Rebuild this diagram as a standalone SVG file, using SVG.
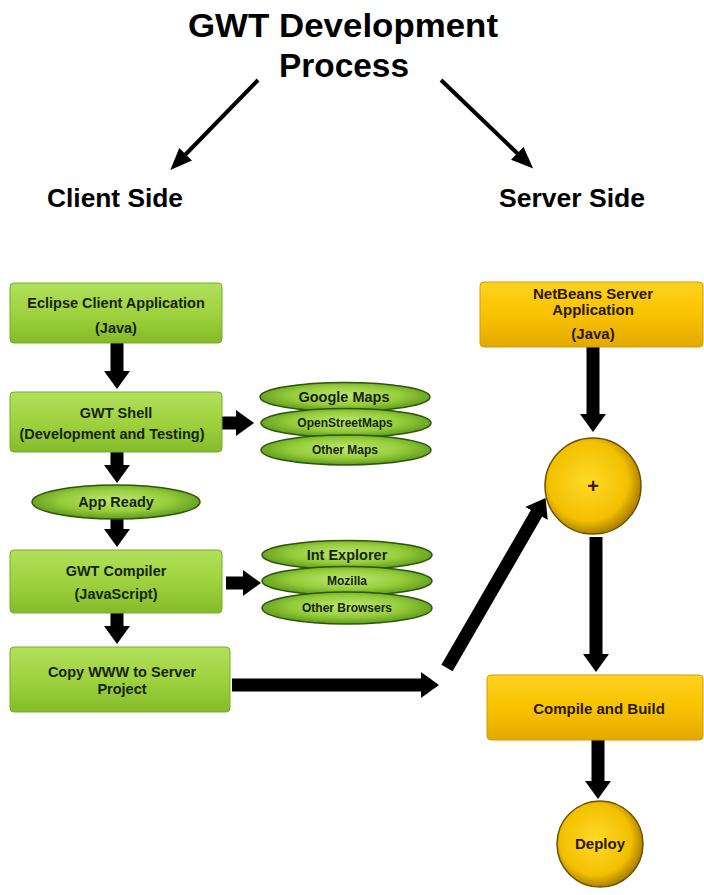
<svg xmlns="http://www.w3.org/2000/svg" width="704" height="895" viewBox="0 0 704 895">
<defs>
  <linearGradient id="gBox" x1="0" y1="0" x2="0" y2="1">
    <stop offset="0" stop-color="#b2e05c"/>
    <stop offset="0.5" stop-color="#9fd23f"/>
    <stop offset="1" stop-color="#84bb2a"/>
  </linearGradient>
  <radialGradient id="gEll" cx="0.5" cy="0.45" r="0.55">
    <stop offset="0" stop-color="#bde872"/>
    <stop offset="0.6" stop-color="#95cc3a"/>
    <stop offset="1" stop-color="#5e9a1c"/>
  </radialGradient>
  <linearGradient id="oBox" x1="0" y1="0" x2="0" y2="1">
    <stop offset="0" stop-color="#ffd21e"/>
    <stop offset="0.5" stop-color="#f8c300"/>
    <stop offset="1" stop-color="#e4a800"/>
  </linearGradient>
  <radialGradient id="oCirc" cx="0.45" cy="0.45" r="0.55">
    <stop offset="0" stop-color="#ffd928"/>
    <stop offset="0.75" stop-color="#f2c000"/>
    <stop offset="1" stop-color="#b08200"/>
  </radialGradient>
  <marker id="thick" viewBox="0 0 18 26" refX="1" refY="13" markerWidth="18" markerHeight="26" markerUnits="userSpaceOnUse" orient="auto">
    <path d="M0,0 L18,13 L0,26 z" fill="#000"/>
  </marker>
  <marker id="thin" viewBox="0 0 22 18" refX="1" refY="9" markerWidth="22" markerHeight="18" markerUnits="userSpaceOnUse" orient="auto">
    <path d="M0,0 L22,9 L0,18 z" fill="#000"/>
  </marker>
</defs>
<style>
  text { font-family: "Liberation Sans", Arial, sans-serif; font-weight: bold; text-anchor: middle; }
  .title { font-size: 34px; fill: #000; }
  .side { font-size: 25px; fill: #000; text-anchor: start; }
  .gbox { fill: url(#gBox); stroke: #7aab26; stroke-width: 1; }
  .gell { fill: url(#gEll); stroke: #2e560c; stroke-width: 1.5; }
  .obox { fill: url(#oBox); stroke: #d49c00; stroke-width: 1; }
  .ocirc { fill: url(#oCirc); stroke: #6e5200; stroke-width: 1.5; }
  .gt { font-size: 14.5px; fill: #16240a; }
  .et { font-size: 14.5px; fill: #16240a; }
  .es { font-size: 12px; fill: #16240a; }
  .ot { font-size: 15px; fill: #2a1800; }
  .plus { font-size: 20px; fill: #3a1a00; }
  .thick { stroke: #000; stroke-width: 13; fill: none; marker-end: url(#thick); }
  .thin { stroke: #000; stroke-width: 4; fill: none; marker-end: url(#thin); }
</style>
<rect width="704" height="895" fill="#ffffff"/>

<g id="title">
  <text class="title" x="343" y="37" textLength="310" lengthAdjust="spacingAndGlyphs">GWT Development</text>
  <text class="title" x="344" y="77" textLength="130" lengthAdjust="spacingAndGlyphs">Process</text>
</g>
<g id="client-side"><text class="side" x="47" y="207" textLength="136" lengthAdjust="spacingAndGlyphs">Client Side</text></g>
<g id="server-side"><text class="side" x="499" y="207" textLength="146" lengthAdjust="spacingAndGlyphs">Server Side</text></g>

<g id="connectors">
  <line class="thin" x1="258" y1="80" x2="185" y2="155"/>
  <line class="thin" x1="441" y1="80" x2="518" y2="154"/>
  <line class="thick" x1="117" y1="343" x2="117" y2="372"/>
  <line class="thick" x1="222" y1="423" x2="237" y2="423"/>
  <line class="thick" x1="117" y1="452" x2="117" y2="466"/>
  <line class="thick" x1="117" y1="519" x2="117" y2="530"/>
  <line class="thick" x1="117" y1="613" x2="117" y2="627"/>
  <line class="thick" x1="226" y1="583" x2="244" y2="583"/>
  <line class="thick" x1="232" y1="685" x2="422" y2="685"/>
  <line class="thick" x1="447" y1="668" x2="537" y2="512.6"/>
  <line class="thick" x1="593" y1="347" x2="593" y2="415"/>
  <line class="thick" x1="596" y1="537" x2="596" y2="655"/>
  <line class="thick" x1="598" y1="740" x2="598" y2="782"/>
</g>

<g id="eclipse">
  <rect class="gbox" x="10" y="283" width="212" height="60" rx="4"/>
  <text class="gt" x="116" y="308">Eclipse Client Application</text>
  <text class="gt" x="116" y="333">(Java)</text>
</g>
<g id="gwt-shell">
  <rect class="gbox" x="10" y="392" width="212" height="60" rx="4"/>
  <text class="gt" x="116" y="418">GWT Shell</text>
  <text class="gt" x="112" y="439">(Development and Testing)</text>
</g>
<g id="google-maps">
  <ellipse class="gell" cx="345" cy="397" rx="85" ry="14.5"/>
  <text class="et" x="344" y="402">Google Maps</text>
</g>
<g id="openstreetmaps">
  <ellipse class="gell" cx="346" cy="423" rx="85" ry="14.5"/>
  <text class="es" x="345" y="427">OpenStreetMaps</text>
</g>
<g id="other-maps">
  <ellipse class="gell" cx="346" cy="450" rx="85" ry="15"/>
  <text class="es" x="345" y="454">Other Maps</text>
</g>
<g id="app-ready">
  <ellipse class="gell" cx="116" cy="502" rx="84" ry="17"/>
  <text class="et" x="116" y="507">App Ready</text>
</g>
<g id="gwt-compiler">
  <rect class="gbox" x="10" y="550" width="212" height="63" rx="4"/>
  <text class="gt" x="116" y="576">GWT Compiler</text>
  <text class="gt" x="116" y="599">(JavaScript)</text>
</g>
<g id="int-explorer">
  <ellipse class="gell" cx="347" cy="555" rx="85" ry="14.5"/>
  <text class="et" x="347" y="560">Int Explorer</text>
</g>
<g id="mozilla">
  <ellipse class="gell" cx="347" cy="581" rx="85" ry="14.5"/>
  <text class="es" x="347" y="585">Mozilla</text>
</g>
<g id="other-browsers">
  <ellipse class="gell" cx="347" cy="608" rx="85" ry="16"/>
  <text class="es" x="347" y="612">Other Browsers</text>
</g>
<g id="copy-www">
  <rect class="gbox" x="10" y="647" width="220" height="65" rx="4"/>
  <text class="gt" x="122" y="677">Copy WWW to Server</text>
  <text class="gt" x="122" y="694">Project</text>
</g>

<g id="netbeans">
  <rect class="obox" x="480" y="282" width="223" height="65" rx="4"/>
  <text class="ot" x="593" y="299">NetBeans Server</text>
  <text class="ot" x="593" y="315">Application</text>
  <text class="ot" x="593" y="339">(Java)</text>
</g>
<g id="plus">
  <circle class="ocirc" cx="593" cy="486" r="48"/>
  <text class="plus" x="593" y="493">+</text>
</g>
<g id="compile-build">
  <rect class="obox" x="487" y="675" width="216" height="65" rx="4"/>
  <text class="ot" x="599" y="714">Compile and Build</text>
</g>
<g id="deploy">
  <circle class="ocirc" cx="600" cy="844" r="43"/>
  <text class="ot" x="600" y="849">Deploy</text>
</g>
</svg>
